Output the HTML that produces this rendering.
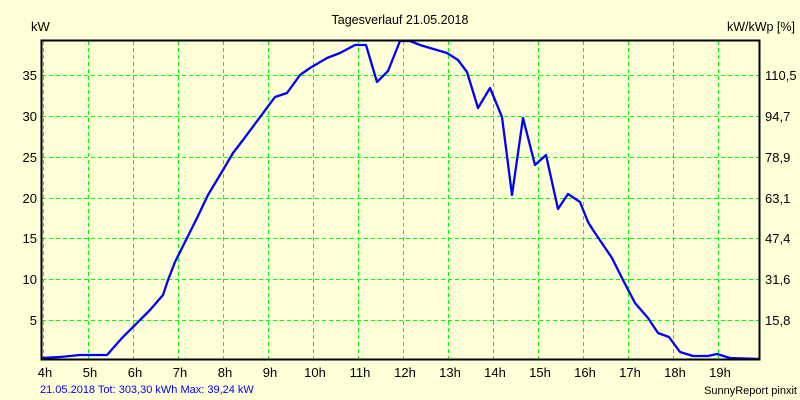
<!DOCTYPE html>
<html><head><meta charset="utf-8"><style>
html,body{margin:0;padding:0;background:#FFFFD8;}
svg{display:block;font-family:"Liberation Sans",sans-serif;}
</style></head><body>
<svg width="800" height="400" viewBox="0 0 800 400">
<rect width="800" height="400" fill="#FFFFD8"/>
<g stroke="#00FF00" stroke-width="1" stroke-dasharray="4,3" fill="none">
<line x1="43.5" y1="41" x2="43.5" y2="358"/><line x1="88.5" y1="41" x2="88.5" y2="358"/><line x1="133.5" y1="41" x2="133.5" y2="358"/><line x1="178.5" y1="41" x2="178.5" y2="358"/><line x1="223.5" y1="41" x2="223.5" y2="358"/><line x1="268.5" y1="41" x2="268.5" y2="358"/><line x1="313.5" y1="41" x2="313.5" y2="358"/><line x1="358.5" y1="41" x2="358.5" y2="358"/><line x1="403.5" y1="41" x2="403.5" y2="358"/><line x1="448.5" y1="41" x2="448.5" y2="358"/><line x1="493.5" y1="41" x2="493.5" y2="358"/><line x1="538.5" y1="41" x2="538.5" y2="358"/><line x1="583.5" y1="41" x2="583.5" y2="358"/><line x1="628.5" y1="41" x2="628.5" y2="358"/><line x1="673.5" y1="41" x2="673.5" y2="358"/><line x1="718.5" y1="41" x2="718.5" y2="358"/>
<line x1="42" y1="320.5" x2="759" y2="320.5"/><line x1="42" y1="279.5" x2="759" y2="279.5"/><line x1="42" y1="238.5" x2="759" y2="238.5"/><line x1="42" y1="198.5" x2="759" y2="198.5"/><line x1="42" y1="157.5" x2="759" y2="157.5"/><line x1="42" y1="116.5" x2="759" y2="116.5"/><line x1="42" y1="75.5" x2="759" y2="75.5"/>
</g>
<polyline fill="none" stroke="#0000FF" stroke-width="2.3" stroke-linejoin="round" points="41,358 60,357 80,355 107,355 122,338 150,310 163,295 168,280 175,262 187,238 197,218 208,195 223,170 233,153 243,140 275,97 287,93 300,75 310,68 327,58 340,53 355,45 366,45 377,82 388,71 400,41 410,41 420,45 430,48 447,53 458,60 467,72 478,108 490,88 495,100 502,117 512,195 523,118 535,165 546,155 558,209 568,194 580,202 588,222 593,230 612,258 623,280 635,303 648,318 658,333 669,337 680,352 693,356 708,356 717,354 730,358 760,359"/>
<path d="M41.5 359.5 V40.5 H759.5 V359.5 Z" fill="none" stroke="#000" stroke-width="2"/>
<g font-size="13" fill="#000">
<text x="400" y="24" text-anchor="middle" font-size="12.5">Tagesverlauf 21.05.2018</text>
<text x="31" y="31">kW</text>
<text x="795" y="31" text-anchor="end" font-size="12.5">kW/kWp [%]</text>
<g text-anchor="end"><text x="37" y="325">5</text><text x="37" y="284">10</text><text x="37" y="243">15</text><text x="37" y="203">20</text><text x="37" y="162">25</text><text x="37" y="121">30</text><text x="37" y="80">35</text></g>
<g><text x="765" y="325">15,8</text><text x="765" y="284">31,6</text><text x="765" y="243">47,4</text><text x="765" y="203">63,1</text><text x="765" y="162">78,9</text><text x="765" y="121">94,7</text><text x="765" y="80">110,5</text></g>
<g text-anchor="middle"><text x="45" y="377">4h</text><text x="90" y="377">5h</text><text x="135" y="377">6h</text><text x="180" y="377">7h</text><text x="225" y="377">8h</text><text x="270" y="377">9h</text><text x="315" y="377">10h</text><text x="360" y="377">11h</text><text x="405" y="377">12h</text><text x="450" y="377">13h</text><text x="495" y="377">14h</text><text x="540" y="377">15h</text><text x="585" y="377">16h</text><text x="630" y="377">17h</text><text x="675" y="377">18h</text><text x="720" y="377">19h</text></g>
</g>
<text x="40" y="393" font-size="11" fill="#0000FF">21.05.2018 Tot: 303,30 kWh Max: 39,24 kW</text>
<text x="797" y="394" font-size="11" fill="#000" text-anchor="end">SunnyReport pinxit</text>
</svg>
</body></html>
